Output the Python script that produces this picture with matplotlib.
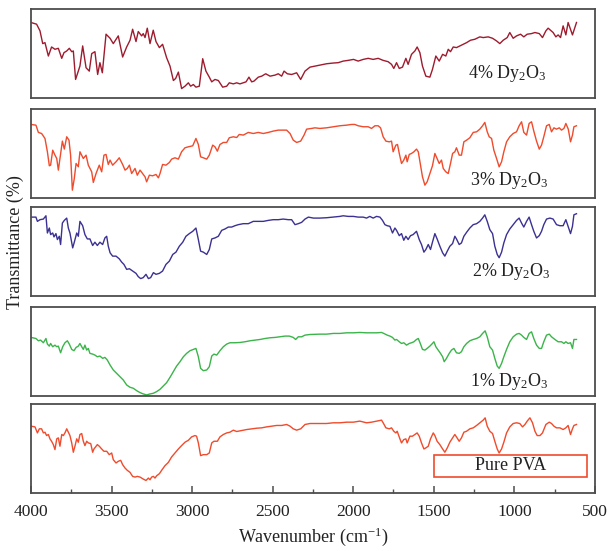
import matplotlib
matplotlib.use("Agg")
import matplotlib.pyplot as plt
import matplotlib.patches as mpatches

plt.rcParams.update({
    'font.family': 'serif',
    'font.serif': ['Liberation Serif', 'DejaVu Serif'],
    'mathtext.default': 'regular',
    'font.size': 12,
})

# ── data (transmittance in arbitrary panel units) ──
wn_4 = [4000, 3965, 3944, 3927, 3913, 3892, 3872, 3851, 3830, 3809, 3795, 3778, 3762, 3747, 3737,
        3723, 3696, 3679, 3658, 3638, 3623, 3603, 3586, 3572, 3557, 3534, 3509, 3489, 3458, 3431,
        3406, 3385, 3369, 3348, 3334, 3313, 3303, 3292, 3278, 3261, 3241, 3224, 3203, 3183, 3158,
        3137, 3116, 3102, 3085, 3065, 3044, 3023, 3009, 2992, 2976, 2955, 2934, 2914, 2893, 2878,
        2858, 2837, 2810, 2785, 2769, 2744, 2723, 2703, 2682, 2665, 2647, 2630, 2616, 2589, 2568,
        2543, 2516, 2485, 2465, 2444, 2429, 2409, 2382, 2351, 2326, 2299, 2268, 2216, 2165, 2124,
        2093, 2062, 2031, 1998, 1969, 1938, 1907, 1876, 1845, 1814, 1783, 1762, 1748, 1731, 1714,
        1694, 1673, 1659, 1638, 1617, 1603, 1586, 1570, 1549, 1524, 1508, 1487, 1466, 1445, 1425,
        1410, 1396, 1379, 1359, 1338, 1317, 1296, 1272, 1245, 1214, 1193, 1162, 1135, 1110, 1090,
        1069, 1044, 1028, 1007, 986, 961, 941, 920, 893, 872, 845, 825, 804, 790, 775,
        759, 742, 728, 713, 697, 680, 666, 651, 639, 624, 614]
t_4 = [85.2, 83.3, 75.8, 61.4, 62.5, 47.4, 57.6, 55.0, 56.1, 44.8, 51.2, 53.1, 56.1, 52.3, 53.1,
       21.0, 36.1, 58.8, 34.2, 30.4, 50.1, 52.3, 26.6, 39.9, 28.5, 72.0, 67.4, 61.4, 70.1, 46.3,
       57.6, 65.2, 77.6, 63.7, 75.0, 70.1, 72.7, 68.2, 78.8, 61.4, 76.5, 63.7, 56.9, 60.6, 45.5,
       36.1, 19.8, 22.1, 29.3, 10.7, 13.4, 17.2, 13.4, 15.3, 12.3, 13.4, 44.4, 30.4, 23.6, 18.3,
       21.0, 19.8, 12.3, 13.4, 17.2, 16.0, 17.2, 16.0, 17.2, 18.3, 23.6, 18.3, 19.1, 23.6, 24.7,
       27.4, 24.7, 25.9, 27.4, 24.7, 30.4, 27.4, 26.6, 28.5, 21.0, 30.4, 34.9, 36.8, 38.7, 39.5,
       39.9, 41.7, 42.5, 43.6, 41.7, 43.6, 44.8, 43.6, 44.8, 42.5, 41.0, 38.0, 33.4, 39.9, 33.4,
       34.9, 44.8, 38.0, 49.3, 53.1, 57.6, 51.2, 36.1, 24.7, 23.6, 32.3, 47.4, 41.7, 49.3, 47.4,
       55.0, 52.3, 57.6, 56.9, 58.8, 60.6, 62.5, 65.2, 66.3, 69.0, 68.2, 69.0, 67.4, 64.4, 61.4,
       65.2, 68.2, 73.9, 67.4, 70.1, 72.0, 69.0, 72.0, 72.7, 73.9, 72.7, 68.2, 75.8, 78.8, 76.5,
       73.9, 69.0, 71.2, 68.2, 81.4, 71.2, 85.2, 77.6, 71.2, 79.5, 85.2]

wn_3 = [4000, 3969, 3954, 3934, 3913, 3898, 3886, 3878, 3865, 3851, 3840, 3830, 3820, 3805, 3793,
        3778, 3764, 3754, 3743, 3731, 3720, 3706, 3696, 3675, 3658, 3644, 3623, 3613, 3596, 3576,
        3561, 3547, 3534, 3520, 3509, 3493, 3472, 3452, 3431, 3416, 3402, 3389, 3375, 3354, 3340,
        3323, 3307, 3292, 3282, 3265, 3245, 3224, 3209, 3199, 3183, 3162, 3141, 3127, 3106, 3085,
        3065, 3044, 3023, 2996, 2976, 2961, 2947, 2930, 2909, 2893, 2872, 2858, 2843, 2827, 2806,
        2785, 2769, 2744, 2723, 2707, 2682, 2651, 2620, 2589, 2558, 2527, 2496, 2465, 2434, 2413,
        2392, 2372, 2351, 2326, 2305, 2289, 2258, 2237,
        2207, 2165, 2124, 2083, 2041, 2010, 1990, 1969, 1938, 1907, 1886, 1865, 1845, 1830, 1814,
        1797, 1776, 1762, 1752, 1735, 1725, 1714, 1700, 1686, 1673, 1665, 1652, 1638, 1623, 1607,
        1596, 1582, 1570, 1555, 1541, 1524, 1508, 1493, 1479, 1466, 1452, 1441, 1425, 1410, 1396,
        1383, 1369, 1359, 1342, 1328, 1313, 1296, 1276, 1255, 1234, 1214, 1197, 1183, 1168, 1156,
        1141, 1127, 1110, 1094, 1079, 1065, 1048, 1028, 1007, 986, 970, 955, 941, 924, 908,
        893, 879, 862, 845, 831, 817, 800, 783, 769, 754, 738, 721, 707, 692, 680,
        665, 651, 639, 630, 614]
t_3 = [82.7, 81.9, 73.7, 72.5, 66.9, 51.9, 36.1, 36.8, 53.7, 48.1, 44.3, 31.2, 44.3, 63.9, 54.9,
       68.8, 65.0, 48.1, 8.6, 21.8, 38.7, 35.0, 51.9, 44.3, 48.1, 36.8, 29.3, 17.3, 27.4, 36.8,
       29.3, 48.1, 48.9, 37.6, 42.5, 36.8, 40.6, 45.1, 37.6, 31.2, 33.1, 36.8, 27.4, 33.1, 25.5,
       31.2, 27.4, 23.7, 18.0, 25.5, 24.8, 26.3, 22.5, 27.4, 37.6, 36.8, 39.8, 43.6, 45.1, 43.6,
       51.9, 56.4, 57.5, 58.6, 66.9, 60.1, 46.2, 45.1, 43.6, 48.1, 59.4, 57.5, 52.6, 60.1, 62.4,
       62.4, 67.7, 68.8, 68.0, 71.4, 70.7, 73.7, 72.5, 73.7, 72.5, 73.7, 75.2, 76.3, 76.3, 76.3,
       72.5, 65.0, 62.4, 63.9, 70.7, 77.4, 78.2, 78.9,
       78.2, 78.9, 80.1, 81.2, 81.9, 82.7, 82.7, 81.2, 80.1, 80.1, 78.2, 81.2, 81.2, 78.9, 68.8,
       63.9, 63.1, 63.9, 51.9, 59.4, 60.1, 50.0, 38.7, 42.5, 48.1, 40.6, 48.9, 50.0, 51.9, 54.9,
       51.9, 36.8, 23.7, 14.3, 18.0, 27.4, 36.1, 50.0, 44.3, 38.7, 42.5, 33.1, 29.3, 27.4, 38.7,
       50.0, 51.9, 56.4, 48.1, 48.1, 63.1, 65.0, 67.7, 73.7, 74.4, 77.4, 81.2, 85.0, 74.4, 68.8,
       66.9, 53.7, 44.3, 34.9, 40.6, 51.9, 63.1, 68.8, 72.5, 74.4, 81.2, 85.7, 73.7, 70.7, 83.8,
       85.7, 75.2, 63.9, 54.9, 59.4, 68.8, 81.2, 82.7, 74.4, 78.9, 77.4, 78.9, 76.3, 78.2, 83.8,
       77.4, 63.1, 70.7, 80.1, 81.2]

wn_2 = [4000, 3969, 3960, 3944, 3923, 3907, 3898, 3886, 3878, 3865, 3857, 3845, 3836, 3824, 3816,
        3805, 3793, 3778, 3768, 3758, 3747, 3741, 3731, 3716, 3706, 3696, 3679, 3665, 3650, 3634,
        3617, 3603, 3588, 3572, 3555, 3541, 3530, 3520, 3509, 3493, 3472, 3452, 3437, 3423, 3406,
        3389, 3369, 3348, 3334, 3319, 3303, 3286, 3271, 3257, 3240, 3224, 3203, 3183, 3162, 3141,
        3120, 3100, 3079, 3058, 3038, 3017, 2996, 2976, 2961, 2947, 2930, 2909, 2893, 2878, 2858,
        2837, 2816, 2796, 2775, 2754, 2734, 2713, 2682, 2651, 2620, 2589, 2558, 2527, 2496, 2465,
        2434, 2403, 2382, 2361, 2341, 2320, 2299, 2278, 2247,
        2207, 2165, 2124, 2083, 2062, 2031, 1999, 1969, 1938, 1917, 1897, 1876, 1855, 1834, 1818,
        1803, 1789, 1772, 1756, 1741, 1731, 1714, 1700, 1686, 1673, 1659, 1644, 1628, 1607, 1590,
        1576, 1561, 1549, 1534, 1520, 1508, 1493, 1479, 1462, 1445, 1431, 1416, 1400, 1383, 1369,
        1359, 1342, 1328, 1313, 1296, 1276, 1255, 1234, 1214, 1197, 1183, 1168, 1152, 1135, 1121,
        1106, 1094, 1079, 1065, 1048, 1028, 1007, 986, 970, 955, 941, 924, 908, 893, 879,
        862, 845, 831, 817, 800, 779, 759, 738, 717, 697, 680, 666, 651, 639, 630, 614]
t_2 = [88.8, 88.8, 84.0, 85.9, 86.6, 90.3, 70.9, 76.5, 69.1, 70.9, 66.5, 70.2, 63.5, 67.2, 57.9,
       82.1, 85.1, 87.7, 76.5, 70.9, 59.7, 54.1, 60.5, 70.9, 67.2, 84.0, 79.1, 69.1, 64.2, 64.2,
       56.8, 60.5, 56.8, 60.5, 57.9, 65.3, 67.2, 56.0, 48.6, 44.8, 44.8, 41.8, 38.1, 35.5, 29.9,
       30.6, 28.0, 25.4, 21.7, 19.5, 20.6, 24.3, 19.5, 20.6, 26.2, 24.3, 25.4, 28.0, 35.5, 39.2,
       46.7, 49.3, 56.0, 60.5, 67.2, 70.2, 72.8, 76.5, 63.5, 50.4, 49.3, 46.7, 52.3, 64.2, 65.3,
       67.2, 73.9, 75.4, 77.6, 77.6, 79.1, 80.3, 81.4, 81.4, 84.0, 84.0, 84.0, 85.1, 85.9, 85.9,
       86.6, 85.9, 85.9, 80.3, 81.4, 82.9, 86.6, 88.8, 87.7,
       87.7, 88.1, 88.8, 89.6, 90.3, 89.6, 89.6, 88.8, 88.8, 87.7, 89.6, 87.7, 89.6, 88.8, 85.1,
       80.3, 79.1, 78.4, 70.9, 76.5, 73.9, 67.9, 70.2, 62.7, 67.2, 63.5, 67.9, 69.1, 72.8, 63.5,
       57.9, 49.3, 52.3, 57.9, 52.3, 60.5, 70.2, 64.2, 56.0, 48.6, 44.8, 50.4, 56.0, 59.0, 67.2,
       64.2, 57.9, 59.7, 67.2, 71.7, 76.5, 80.3, 81.4, 84.0, 87.7, 91.4, 84.0, 74.7, 70.2, 56.0,
       46.7, 43.0, 49.3, 59.7, 69.1, 75.4, 80.3, 85.1, 87.7, 82.1, 77.6, 84.0, 88.8, 80.3, 72.8,
       65.3, 67.9, 72.8, 80.3, 86.6, 87.7, 86.6, 80.3, 79.1, 79.1, 85.9, 78.4, 70.2, 78.4, 91.4, 92.6]

wn_1 = [4000, 3969, 3954, 3940, 3923, 3907, 3898, 3886, 3878, 3865, 3851, 3840, 3830, 3816, 3803,
        3789, 3774, 3762, 3747, 3733, 3720, 3706, 3696, 3685, 3675, 3665, 3654, 3644, 3634, 3617,
        3603, 3588, 3572, 3555, 3541, 3526, 3509, 3489, 3468, 3447, 3427, 3406, 3385, 3365, 3344,
        3323, 3303, 3282, 3261, 3241, 3220, 3199, 3178, 3158, 3137, 3116, 3096, 3075, 3054, 3034,
        3013, 2992, 2976, 2961, 2947, 2930, 2909, 2893, 2878, 2864, 2847, 2827, 2806, 2785, 2765,
        2734, 2703, 2672, 2641, 2609, 2578, 2547, 2516, 2485, 2454, 2423, 2396, 2372, 2357, 2341,
        2320, 2299, 2268,
        2207, 2165, 2124, 2083, 2041, 1999, 1959, 1917, 1886, 1855, 1824, 1810, 1789, 1772, 1756,
        1741, 1731, 1714, 1700, 1686, 1669, 1652, 1638, 1623, 1607, 1596, 1582, 1570, 1555, 1541,
        1524, 1508, 1499, 1487, 1472, 1458, 1445, 1435, 1421, 1404, 1390, 1375, 1359, 1342, 1328,
        1313, 1296, 1276, 1255, 1234, 1214, 1197, 1181, 1168, 1152, 1135, 1121, 1106, 1094, 1079,
        1065, 1048, 1028, 1007, 986, 970, 955, 941, 924, 908, 893, 879, 862, 845, 831,
        817, 800, 783, 769, 748, 728, 707, 692, 680, 666, 651, 639, 630, 614]
t_1 = [65.6, 64.4, 61.8, 62.6, 59.6, 64.4, 58.1, 55.8, 58.8, 55.1, 56.9, 55.1, 55.8, 48.3, 55.1,
       59.6, 61.8, 58.1, 52.1, 50.6, 54.3, 55.8, 58.8, 55.1, 52.1, 56.9, 51.3, 53.2, 47.6, 46.8,
       45.7, 43.8, 44.6, 42.0, 43.1, 40.1, 34.5, 28.9, 25.1, 21.4, 17.6, 12.0, 9.4, 8.3, 5.6,
       3.4, 1.9, 0.8, 1.9, 2.6, 4.5, 7.1, 10.9, 14.6, 20.6, 27.0, 33.3, 38.2, 43.8, 47.6,
       50.6, 52.1, 53.2, 43.8, 30.7, 28.1, 28.9, 32.6, 44.6, 46.8, 45.7, 50.6, 55.1, 58.1, 59.6,
       59.6, 59.9, 60.7, 61.8, 62.6, 63.3, 64.4, 65.2, 65.6, 66.3, 67.1, 67.1, 65.6, 63.3, 66.3,
       66.3, 68.2, 68.9,
       69.3, 69.3, 70.1, 70.1, 70.8, 70.8, 71.2, 70.8, 70.8, 70.8, 71.2, 70.1, 68.2, 67.1, 65.6,
       62.6, 63.3, 60.7, 58.8, 59.6, 56.9, 58.8, 59.6, 60.7, 63.3, 64.4, 58.1, 52.1, 51.3, 53.2,
       55.8, 58.8, 60.7, 55.1, 51.3, 47.6, 43.8, 38.2, 42.0, 47.6, 51.3, 53.2, 48.3, 47.6, 49.5,
       55.1, 58.8, 61.8, 63.3, 64.4, 66.3, 70.1, 73.0, 66.3, 55.1, 51.3, 42.0, 33.3, 30.7, 36.3,
       43.8, 52.1, 60.7, 66.3, 69.3, 70.1, 68.2, 65.6, 63.3, 70.1, 71.9, 64.4, 56.9, 53.2, 53.2,
       60.7, 68.2, 69.3, 66.3, 63.3, 60.7, 60.7, 58.8, 60.7, 58.8, 59.6, 53.2, 63.3, 63.3]

wn_pva = [4000, 3975, 3960, 3948, 3934, 3923, 3913, 3903, 3892, 3882, 3872, 3861, 3851, 3840, 3830,
          3820, 3809, 3799, 3789, 3778, 3768, 3758, 3747, 3737, 3727, 3716, 3706, 3696, 3685, 3675,
          3665, 3654, 3644, 3629, 3617, 3609, 3596, 3588, 3576, 3561, 3547, 3530, 3514, 3499, 3489,
          3472, 3458, 3443, 3431, 3416, 3402, 3385, 3369, 3354, 3340, 3323, 3303, 3286, 3271, 3261,
          3251, 3240, 3230, 3220, 3203, 3189, 3168, 3147, 3127, 3106, 3085, 3065, 3044, 3023, 3003,
          2982, 2972, 2961, 2947, 2930, 2909, 2893, 2878, 2864, 2843, 2827, 2806, 2785, 2765, 2744,
          2723, 2692, 2661, 2630, 2599, 2568, 2537, 2506, 2475, 2444, 2413, 2392, 2372, 2351, 2326,
          2299, 2268,
          2207, 2165, 2124, 2083, 2041, 1999, 1959, 1917, 1886, 1855, 1824, 1814, 1797, 1776, 1762,
          1748, 1735, 1727, 1710, 1700, 1686, 1673, 1665, 1648, 1632, 1617, 1603, 1590, 1576, 1561,
          1549, 1534, 1520, 1503, 1493, 1479, 1462, 1445, 1431, 1416, 1400, 1383, 1369, 1359, 1342,
          1328, 1313, 1296, 1276, 1255, 1234, 1214, 1193, 1181, 1168, 1152, 1135, 1121, 1106, 1094,
          1079, 1065, 1048, 1028, 1007, 986, 966, 949, 934, 920, 903, 887, 872, 858, 841,
          825, 804, 783, 769, 754, 738, 717, 697, 680, 666, 651, 639, 630, 614]
t_pva = [75.5, 74.7, 67.9, 72.5, 72.5, 67.9, 68.7, 64.9, 66.1, 61.2, 58.5, 54.7, 49.1, 61.2, 62.3,
         52.9, 66.1, 64.9, 67.9, 72.5, 68.7, 64.9, 56.6, 46.1, 52.9, 61.2, 57.4, 66.1, 67.2, 58.5,
         53.6, 58.5, 56.6, 55.9, 46.1, 49.8, 52.9, 54.7, 52.9, 49.8, 47.2, 47.2, 43.4, 45.3, 37.7,
         34.0, 35.9, 37.0, 32.1, 28.3, 25.7, 23.4, 18.9, 18.1, 18.9, 18.1, 15.9, 14.3, 17.0, 15.1,
         18.1, 18.9, 17.0, 19.6, 21.9, 25.7, 31.0, 34.7, 40.8, 45.3, 49.8, 53.6, 57.4, 59.6, 63.4,
         64.9, 64.2, 56.6, 42.3, 43.4, 43.4, 45.3, 56.6, 58.5, 58.5, 63.4, 66.1, 67.9, 68.7, 71.0,
         69.5, 70.6, 71.7, 72.5, 73.2, 73.6, 74.7, 75.5, 76.3, 76.3, 77.4, 75.5, 72.5, 71.0, 72.5,
         77.4, 78.5,
         78.5, 78.5, 79.3, 79.3, 80.0, 80.0, 81.2, 79.3, 80.0, 81.2, 82.3, 79.3, 73.6, 72.5, 73.6,
         69.8, 67.9, 69.8, 61.2, 56.6, 60.4, 61.2, 56.6, 64.2, 64.2, 66.1, 67.9, 64.2, 56.6, 49.8,
         51.0, 52.9, 61.2, 67.9, 64.9, 58.5, 54.7, 49.8, 46.1, 51.0, 57.4, 62.3, 66.1, 63.4, 58.5,
         62.3, 68.7, 69.8, 72.5, 73.6, 76.3, 79.3, 82.3, 84.9, 75.5, 69.8, 67.2, 58.5, 49.8, 45.3,
         49.8, 57.4, 67.9, 74.7, 78.5, 79.3, 78.5, 74.7, 77.4, 81.2, 84.9, 79.3, 69.8, 64.9, 64.9,
         67.9, 77.4, 80.0, 78.5, 75.5, 73.6, 73.6, 71.7, 73.6, 76.3, 66.1, 72.5, 76.3, 77.4]

labels = ['4% Dy$_2$O$_3$', '3% Dy$_2$O$_3$', '2% Dy$_2$O$_3$', '1% Dy$_2$O$_3$', 'Pure PVA']
colors = ['#9E1B2E', '#EF4B2C', '#3A3192', '#3BB44A', '#EF4B2C']
series = [(wn_4, t_4), (wn_3, t_3), (wn_2, t_2), (wn_1, t_1), (wn_pva, t_pva)]
label_pos = [(1290, 28), (1278, 20), (1265, 28), (1278, 16), None]

# ── layout ─────────────────────────────────────────────────────────────────
fig = plt.figure(figsize=(6.07, 5.51), dpi=100)
LEFT, WIDTH, H = 0.051, 0.929, 0.161
bottoms = [0.822, 0.641, 0.463, 0.282, 0.105]

for k, ((wn, t), c, lab, pos, b) in enumerate(zip(series, colors, labels, label_pos, bottoms)):
    ax = fig.add_axes([LEFT, b, WIDTH, H])
    ax.plot(wn, t, color=c, lw=1.0)
    ax.set_xlim(4000, 500)
    ax.set_ylim(0, 100)
    ax.set_yticks([])
    for s in ax.spines.values():
        s.set_color('#4D4D4D')
        s.set_linewidth(1.3)
    if k < 4:
        ax.set_xticks([])
        ax.text(pos[0], pos[1], lab, ha='left', va='center', fontsize=13, color='#222222')
    else:
        ax.set_xticks(range(4000, 499, -500))
        ax.set_xticks(range(3750, 500, -500), minor=True)
        ax.tick_params(axis='x', which='major', direction='in', length=5, width=1.1,
                       color='#4D4D4D', labelsize=12.5, pad=8, labelcolor='#222222')
        ax.tick_params(axis='x', which='minor', direction='in', length=3, width=1.0,
                       color='#4D4D4D')
        ax.set_xlabel('Wavenumber (cm$^{-1}$)', fontsize=13, color='#222222', labelpad=4)
        # framed legend-like label (x axis is inverted, so anchor at the low end)
        ax.add_patch(mpatches.Rectangle((549, 18.5), 950, 24.9, fill=False,
                                        edgecolor='#EF4B2C', lw=1.2))
        ax.text(1024, 31, lab, ha='center', va='center', fontsize=13, color='#222222')

fig.text(0.025, 0.56, 'Transmittance (%)', rotation=90, ha='center', va='center',
         fontsize=13, color='#222222')

plt.savefig('out.png', dpi=100)
plt.close()
